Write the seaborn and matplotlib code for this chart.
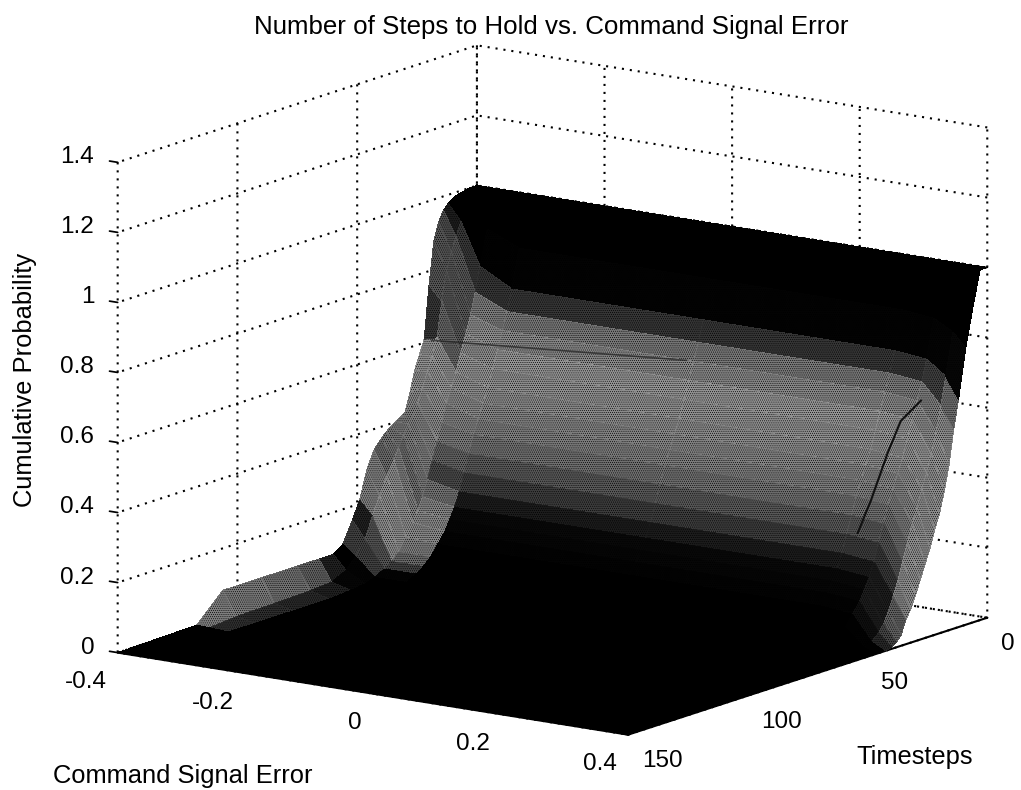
import matplotlib
matplotlib.use('Agg')
import matplotlib.pyplot as plt
import numpy as np
import seaborn as sns

#############
# Read Data #
#############

signal_error = [-0.4, -0.38, -0.35, -0.3, 0.0, 0.3, 0.35, 0.38, 0.4]
timesteps = [0, 3, 6, 9, 12, 14, 16, 18, 20, 22, 24, 26, 28, 30, 32, 34, 36, 38, 40, 43,
             46, 49, 52, 56, 60, 66, 75, 90, 106, 117, 150]

# one list per signal error, one value per timestep
cum_prob = [
    [1, 1, .995, .99, .975, .96, .93, .88, .76, .61, .57, .53, .47, .42, .41, .40,
     .39, .38, .365, .34, .29, .21, .16, .10, .08, .08, .08, .08, .08, .005, 0],
    [1, 1, .99, .97, .93, .89, .85, .80, .72, .62, .57, .53, .49, .45, .42, .40,
     .37, .34, .31, .27, .22, .17, .11, .07, .04, .02, .015, .012, .01, .003, 0],
    [1, .995, .97, .91, .81, .74, .68, .63, .58, .53, .49, .45, .40, .35, .30, .25,
     .205, .17, .14, .105, .07, .05, .035, .02, .01, .005, 0, 0, 0, 0, 0],
    [1, .99, .95, .87, .76, .70, .65, .60, .55, .50, .46, .42, .38, .33, .28, .23,
     .19, .16, .13, .10, .07, .05, .035, .02, .01, .005, 0, 0, 0, 0, 0],
    [1, .99, .95, .87, .76, .70, .65, .60, .55, .50, .46, .42, .38, .33, .28, .23,
     .19, .16, .13, .10, .07, .05, .035, .02, .01, .005, 0, 0, 0, 0, 0],
    [1, .99, .95, .87, .76, .70, .65, .60, .55, .50, .46, .42, .38, .33, .28, .23,
     .19, .16, .13, .10, .07, .05, .035, .02, .01, .005, 0, 0, 0, 0, 0],
    [1, .985, .94, .86, .75, .69, .64, .59, .54, .49, .45, .41, .37, .32, .27, .22,
     .18, .15, .12, .09, .06, .04, .03, .015, .008, .003, 0, 0, 0, 0, 0],
    [1, .98, .92, .83, .71, .63, .56, .50, .45, .41, .36, .32, .27, .22, .17, .13,
     .09, .06, .04, .02, .01, .004, 0, 0, 0, 0, 0, 0, 0, 0, 0],
    [1, 1, .90, .79, .65, .57, .47, .40, .34, .30, .25, .21, .17, .13, .095, .07,
     .03, .015, .005, 0, 0, 0, 0, 0, 0, 0, 0, 0, 0, 0, 0],
]

# dark kink lines that run over the mesh
streak_error = [0.33, 0.33, 0.33, 0.33, 0.33]
streak_steps = [9, 17.5, 23, 30, 35.5]
streak_prob = [0.62, 0.58, 0.50, 0.38, 0.30]
kink_error = [-0.4, 0.0]
kink_steps = [19, 19]
kink_prob = [0.60, 0.66]

x_ticks = [-0.4, -0.2, 0, 0.2, 0.4]
x_labels = ['-0.4', '-0.2', '0', '0.2', '0.4']
y_ticks = [0, 50, 100, 150]
y_labels = ['0', '50', '100', '150']
z_ticks = [0, 0.2, 0.4, 0.6, 0.8, 1, 1.2, 1.4]
z_labels = ['0', '0.2', '0.4', '0.6', '0.8', '1', '1.2', '1.4']

# grey level of the mesh for z = 0, 0.1 ... 1
mesh_greys = ['#000000', '#000000', '#0a0a0a', '#4a4a4a', '#787878', '#8a8a8a',
              '#949494', '#7a7a7a', '#0a0a0a', '#000000', '#000000']

#########
# Style #
#########

sns.set_theme(style='white', font='Liberation Sans', rc={
    'grid.color': 'black',
    'grid.linestyle': (0, (1, 2.84)),
    'grid.linewidth': 1.5,
    'axes.grid': True,
    'xtick.color': 'black',
    'ytick.color': 'black',
    'text.color': 'black',
    'hatch.color': 'black',
    'hatch.linewidth': 0.4,
})
cmap = sns.blend_palette(mesh_greys, n_colors=256, as_cmap=True)

################
# Plot Surface #
################

fig = plt.figure(figsize=(10.21, 7.9), dpi=100)
ax = fig.add_subplot(projection='3d', proj_type='ortho', computed_zorder=False)
ax.set_position([146.8 / 1021, -5.7 / 790, 790 / 1021, 1.0])
ax.view_init(elev=13.23, azim=-54.9)
ax.set_box_aspect((623, 624, 503), zoom=1.249)

X, Y = np.meshgrid(signal_error, timesteps)
Z = np.array(cum_prob).T

# steep walls along the error axis show up lighter than the flat floor
wall = np.clip((np.abs(np.gradient(Z, signal_error, axis=1)) - 1.5) * 0.25, 0, 0.55)
wall[Z > 0.75] *= 0.6
colors = np.maximum(cmap(Z), wall[..., None])

surf = ax.plot_surface(X, Y, Z, facecolors=colors, rstride=1, cstride=1,
                       shade=False, linewidth=0, antialiased=False, zorder=1)
surf.set_clip_on(False)
surf.set_hatch('........')

ax.plot(streak_error, streak_steps, streak_prob, color='#111111', lw=1.5, zorder=2, clip_on=False)
ax.plot(kink_error, kink_steps, kink_prob, color='#222222', lw=1.2, alpha=0.7, zorder=2, clip_on=False)

ax.set_xlim(-0.4, 0.4, view_margin=0)
ax.set_ylim(150, 0, view_margin=0)
ax.set_zlim(0, 1.4, view_margin=0)

ax.set_xticks(x_ticks, x_labels, ha='right')
ax.set_yticks(y_ticks, y_labels, ha='left')
ax.set_zticks(z_ticks, z_labels, ha='right', va='baseline')
ax.tick_params(axis='both', labelsize=17.5)
ax.tick_params(axis='x', pad=1)
ax.tick_params(axis='y', pad=0)
ax.tick_params(axis='z', pad=0)
ax.zaxis.set_ticks_position('upper')

for axis in [ax.xaxis, ax.yaxis, ax.zaxis]:
    axis.set_pane_color((1, 1, 1, 1))
    axis.pane.set_edgecolor('none')
    axis.line.set_color('black')
    axis.line.set_linewidth(1.5)
    axis._axinfo['tick']['inward_factor'] = 0.0
    axis._axinfo['tick']['outward_factor'] = 0.06
ax.zaxis._axinfo['tick']['outward_factor'] = 0.2
ax.zaxis.line.set_visible(False)

fig.text(551 / 1021, 1 - 27 / 790, 'Number of Steps to Hold vs. Command Signal Error',
         ha='center', va='center', fontsize=18.6)
fig.text(183 / 1021, 1 - 776 / 790, 'Command Signal Error', ha='center', va='center', fontsize=18.4)
fig.text(915 / 1021, 1 - 757 / 790, 'Timesteps', ha='center', va='center', fontsize=18.4)
fig.text(25 / 1021, 1 - 380 / 790, 'Cumulative Probability', ha='center', va='center',
         rotation=90, fontsize=18.4)

fig.savefig('out.png', dpi=100)
